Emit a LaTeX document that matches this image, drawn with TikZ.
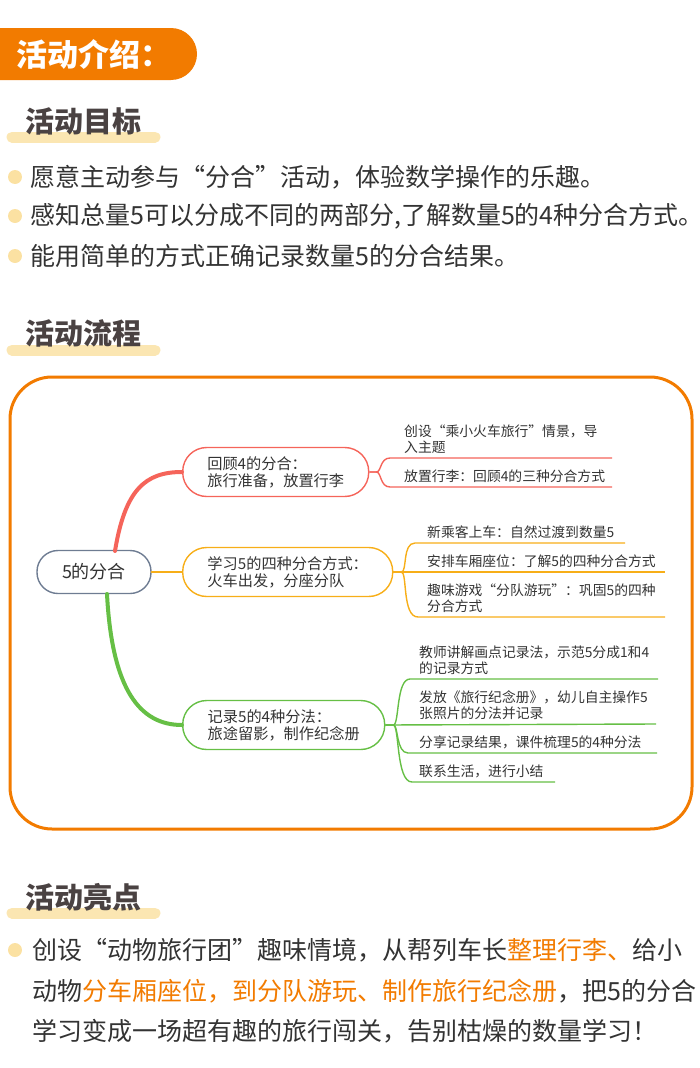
\documentclass[tikz,border=0pt]{standalone}
\usepackage{fontspec}
\setmainfont{Noto Sans CJK SC}
\usetikzlibrary{positioning,calc}
\definecolor{clrOrange}{HTML}{F27B00}
\definecolor{clrBar}{HTML}{FBE6B2}
\definecolor{clrDot}{HTML}{FBE1A2}
\definecolor{clrHead}{HTML}{4A4242}
\definecolor{clrText}{HTML}{333333}
\definecolor{clrRed}{HTML}{F5645A}
\definecolor{clrYel}{HTML}{F7AE18}
\definecolor{clrGreen}{HTML}{66BF45}
\definecolor{clrRoot}{HTML}{6E7C92}
\tikzstyle{heading}=[anchor=west, text=clrHead, font=\fontsize{29}{32}\selectfont\bfseries, inner sep=0]
\tikzstyle{bar}=[clrBar, line width=11pt, line cap=round]
\tikzstyle{dot}=[fill=clrDot, draw=none, circle, minimum size=14pt, inner sep=0]
\tikzstyle{bullet}=[anchor=west, text=clrText, font=\fontsize{25}{28}\selectfont, inner sep=0]
\tikzstyle{branch}=[draw, rounded corners=24pt, line width=1.4pt, minimum height=49pt, align=left, text=clrText, font=\fontsize{15.2}{17}\selectfont, anchor=west, inner xsep=24pt]
\tikzstyle{leaf}=[anchor=south west, align=left, text=clrText, font=\fontsize{13.8}{16}\selectfont, inner sep=1pt]
\tikzstyle{stem}=[line width=4pt, line cap=round]
\tikzstyle{twig}=[line width=1.4pt]
\begin{document}
\begin{tikzpicture}[x=1pt, y=-1pt]
	\useasboundingbox (0,0) rectangle (700,1068);

	% header
	\fill[clrOrange, rounded corners=26pt] (-40,28) rectangle (197,80);
	\node[anchor=west, text=white, font=\fontsize{31}{34}\selectfont\bfseries, inner sep=0] (title) at (16,54) {活动介绍：};

	% goals
	\draw[bar] (12,137) -- (155,137);
	\node[heading] (goals) at (25,121) {活动目标};
	\foreach \y/\txt in {177/{愿意主动参与“分合”活动，体验数学操作的乐趣。},
	                     216/{感知总量5可以分成不同的两部分,了解数量5的4种分合方式。},
	                     256/{能用简单的方式正确记录数量5的分合结果。}} {
		\node[dot] at (15,\y) {};
		\node[bullet] at (30,\y) {\txt};
	}

	% process
	\draw[bar] (12,350) -- (155,350);
	\node[heading] (process) at (25,333) {活动流程};
	\draw[clrOrange, line width=3pt, rounded corners=42pt] (10,377) rectangle (692,829);

	\node[draw=clrRoot, line width=1.4pt, rounded corners=21pt, minimum width=114pt, minimum height=43pt, text=clrText, font=\fontsize{18}{20}\selectfont] (root) at (94,572) {5的分合};

	\node[branch, draw=clrRed, minimum width=186pt] (recall) at (182,472) {回顾4的分合：\\旅行准备，放置行李};
	\node[branch, draw=clrYel, minimum width=210pt] (learn) at (182,572) {学习5的四种分合方式：\\火车出发，分座分队};
	\node[branch, draw=clrGreen, minimum width=202pt] (record) at (182,725) {记录5的4种分法：\\旅途留影，制作纪念册};

	\draw[stem, clrRed] (115,551) .. controls (125,490) and (145,472) .. (recall.west);
	\draw[stem, clrYel, line width=2.5pt] (root.east) -- (learn.west);
	\draw[stem, clrGreen] (107,594) .. controls (112,690) and (140,725) .. (record.west);

	% leaves of recall
	\coordinate (r1) at (612,458);
	\coordinate (r2) at (612,487);
	\draw[twig, clrRed] (recall.east) -- ++(7,0) .. controls ++(5,0) and (380,458) .. (390,458) -- (r1);
	\draw[twig, clrRed] (recall.east) -- ++(7,0) .. controls ++(5,0) and (380,487) .. (390,487) -- (r2);
	\node[leaf] at (403,455) {创设“乘小火车旅行”情景，导\\入主题};
	\node[leaf] at (403,484) {放置行李：回顾4的三种分合方式};

	% leaves of learn
	\coordinate (l1) at (625,543);
	\coordinate (l2) at (665,572);
	\coordinate (l3) at (665,617);
	\draw[twig, clrYel] (learn.east) -- ++(8,0) .. controls ++(6,0) and (402,543) .. (415,543) -- (l1);
	\draw[twig, clrYel] (learn.east) -- (l2);
	\draw[twig, clrYel] (learn.east) -- ++(8,0) .. controls ++(6,0) and (402,617) .. (418,617) -- (l3);
	\node[leaf] at (426,540) {新乘客上车：自然过渡到数量5};
	\node[leaf] at (426,569) {安排车厢座位：了解5的四种分合方式};
	\node[leaf] at (426,614) {趣味游戏“分队游玩”：巩固5的四种\\分合方式};

	% leaves of record
	\coordinate (g1) at (658,679);
	\coordinate (g2) at (656,724);
	\coordinate (g3) at (657,753);
	\coordinate (g4) at (555,782);
	\draw[twig, clrGreen] (record.east) -- ++(8,0) .. controls ++(6,0) and (396,679) .. (410,679) -- (g1);
	\draw[twig, clrGreen] (record.east) -- (g2);
	\draw[twig, clrGreen] (record.east) -- ++(8,0) .. controls ++(5,0) and (396,753) .. (408,753) -- (g3);
	\draw[twig, clrGreen] (record.east) -- ++(8,0) .. controls ++(6,0) and (396,782) .. (412,782) -- (g4);
	\node[leaf] at (418,676) {教师讲解画点记录法，示范5分成1和4\\的记录方式};
	\node[leaf] at (418,721) {发放《旅行纪念册》，幼儿自主操作5\\张照片的分法并记录};
	\node[leaf] at (418,750) {分享记录结果，课件梳理5的4种分法};
	\node[leaf] at (418,779) {联系生活，进行小结};

	% highlights
	\draw[bar] (12,913) -- (155,913);
	\node[heading] (highlights) at (25,897) {活动亮点};
	\node[dot] at (15,950) {};
	\node[bullet] (h1) at (32,950) {创设“动物旅行团”趣味情境，从帮列车长\textcolor{clrOrange}{整理行李、}给小};
	\node[bullet] (h2) at (32,991) {动物\textcolor{clrOrange}{分车厢座位，到分队游玩、制作旅行纪念册}，把5的分合};
	\node[bullet] (h3) at (32,1031) {学习变成一场超有趣的旅行闯关，告别枯燥的数量学习！};
\end{tikzpicture}
\end{document}
